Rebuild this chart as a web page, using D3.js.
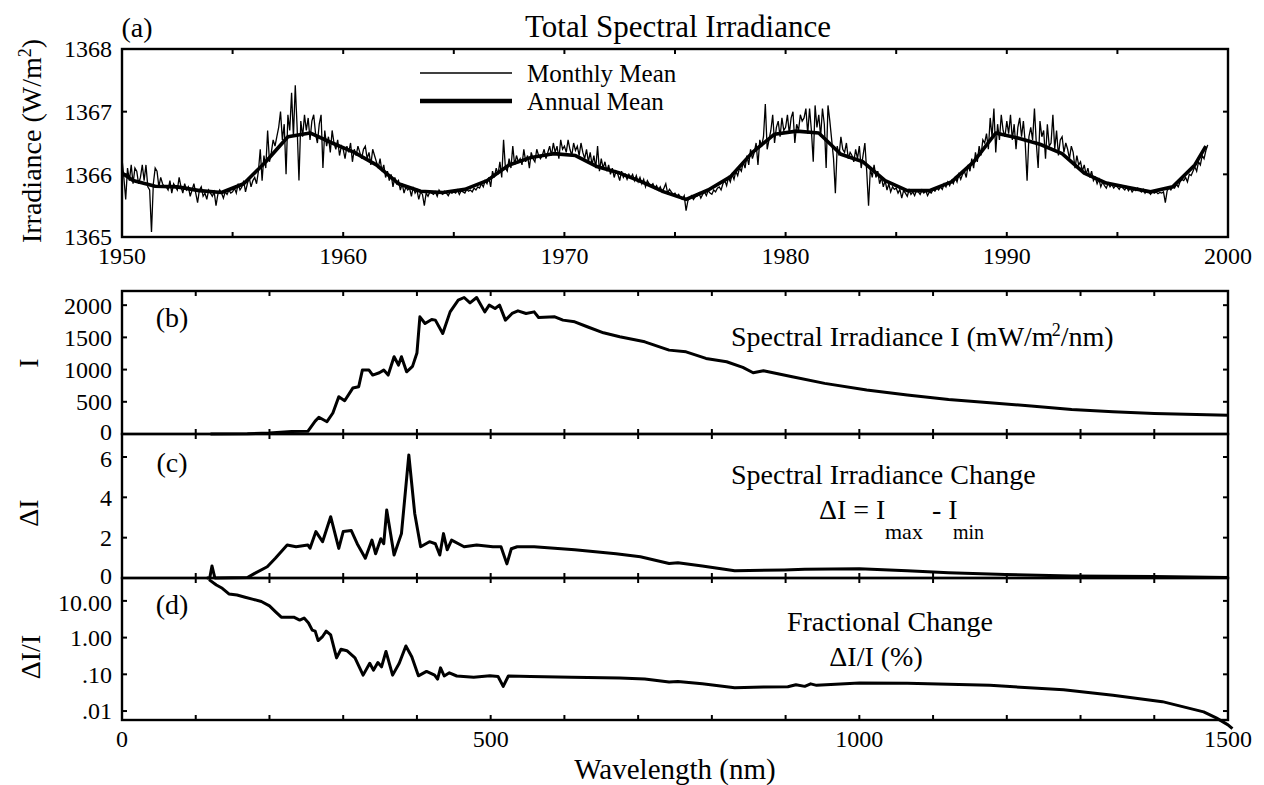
<!DOCTYPE html>
<html>
<head>
<meta charset="utf-8">
<script src="https://cdn.jsdelivr.net/npm/d3@7"></script>
<style>
  html, body { margin: 0; padding: 0; background: #fff; }
  svg text { font-family: 'Liberation Serif', 'DejaVu Serif', serif; fill: #000; }
</style>
</head>
<body>
<div id="chart"></div>
<script>
// ---- data ----

// (a) monthly mean TSI, W/m^2 minus 1365, Jan 1950 .. Feb 1999 (one row per year)
const monthlyBase = 1365;
const monthlyDelta = [
  1.25, 0.95, 0.60, 1.10, 0.90, 1.15, 0.85, 1.10, 1.05, 0.85, 0.95, 1.15, // 1950
  0.90, 1.15, 0.80, 0.75, 0.08, 0.85, 1.10, 1.05, 0.80, 0.95, 0.85, 0.80, // 1951
  0.80, 0.75, 0.90, 0.70, 0.85, 0.80, 0.75, 0.95, 0.80, 0.70, 0.85, 0.75, // 1952
  0.80, 0.65, 0.75, 0.85, 0.70, 0.55, 0.75, 0.80, 0.65, 0.70, 0.60, 0.75, // 1953
  0.70, 0.65, 0.72, 0.50, 0.68, 0.75, 0.70, 0.62, 0.72, 0.68, 0.75, 0.70, // 1954
  0.72, 0.78, 0.70, 0.85, 0.75, 0.80, 0.90, 0.72, 0.85, 0.95, 0.80, 0.90, // 1955
  0.95, 0.85, 1.05, 1.40, 0.90, 1.30, 1.10, 1.70, 1.20, 1.35, 1.55, 1.45, // 1956
  1.60, 1.75, 2.00, 1.55, 1.80, 1.00, 1.95, 1.70, 2.30, 1.60, 2.42, 1.75, // 1957
  0.90, 1.85, 1.60, 1.95, 1.70, 1.90, 1.55, 1.85, 1.95, 1.65, 1.50, 1.80, // 1958
  1.95, 1.10, 1.70, 1.45, 1.60, 1.35, 1.70, 1.50, 1.40, 1.55, 1.30, 1.45, // 1959
  1.40, 1.25, 1.45, 1.35, 1.50, 1.20, 1.40, 1.30, 1.45, 1.35, 1.25, 1.40, // 1960
  1.45, 1.25, 1.35, 1.15, 1.40, 1.30, 1.20, 1.10, 1.25, 1.05, 1.15, 0.95, // 1961
  1.05, 0.90, 1.00, 0.80, 0.95, 0.85, 0.90, 0.75, 0.85, 0.70, 0.80, 0.75, // 1962
  0.78, 0.65, 0.80, 0.70, 0.75, 0.60, 0.72, 0.68, 0.50, 0.70, 0.65, 0.72, // 1963
  0.70, 0.68, 0.72, 0.65, 0.75, 0.70, 0.68, 0.73, 0.70, 0.66, 0.72, 0.70, // 1964
  0.72, 0.70, 0.75, 0.68, 0.74, 0.72, 0.70, 0.76, 0.73, 0.75, 0.72, 0.78, // 1965
  0.75, 0.80, 0.78, 0.85, 0.80, 0.90, 0.85, 0.95, 0.80, 1.05, 0.95, 1.10, // 1966
  1.00, 1.20, 0.95, 1.55, 1.10, 1.05, 1.25, 1.10, 1.45, 1.15, 1.30, 1.20, // 1967
  1.25, 1.15, 1.40, 1.20, 1.30, 1.10, 1.35, 1.25, 1.20, 1.40, 1.30, 1.25, // 1968
  1.30, 1.40, 1.25, 1.35, 1.45, 1.30, 1.50, 1.35, 1.45, 1.25, 1.55, 1.40, // 1969
  1.45, 1.35, 1.55, 1.40, 1.30, 1.50, 1.38, 1.45, 1.30, 1.50, 1.35, 1.25, // 1970
  1.40, 1.20, 1.35, 1.15, 1.30, 1.10, 1.45, 1.05, 1.25, 1.10, 1.20, 1.05, // 1971
  1.15, 1.00, 1.10, 0.95, 1.05, 1.00, 0.90, 1.05, 0.95, 1.00, 0.92, 1.00, // 1972
  0.95, 1.00, 0.90, 0.98, 0.88, 0.95, 0.85, 0.92, 0.80, 0.90, 0.85, 0.82, // 1973
  0.85, 0.78, 0.82, 0.75, 0.80, 0.72, 0.78, 0.85, 0.70, 0.76, 0.72, 0.68, // 1974
  0.70, 0.65, 0.68, 0.62, 0.60, 0.66, 0.42, 0.58, 0.62, 0.66, 0.60, 0.64, // 1975
  0.65, 0.70, 0.62, 0.68, 0.72, 0.66, 0.74, 0.70, 0.68, 0.75, 0.72, 0.78, // 1976
  0.80, 0.75, 0.85, 0.90, 0.82, 0.95, 0.88, 1.00, 0.92, 1.05, 0.98, 1.10, // 1977
  1.05, 1.20, 1.10, 1.30, 1.15, 1.40, 1.25, 1.35, 1.50, 1.15, 1.55, 1.45, // 1978
  1.60, 2.12, 1.40, 1.55, 1.70, 1.95, 1.50, 1.75, 1.85, 1.60, 1.90, 1.70, // 1979
  1.75, 1.95, 1.65, 1.90, 2.00, 1.50, 1.80, 1.70, 1.95, 1.85, 1.90, 2.05, // 1980
  1.65, 2.05, 1.70, 1.20, 2.10, 1.75, 1.95, 1.60, 2.05, 1.80, 1.10, 2.10, // 1981
  1.85, 1.55, 1.25, 0.70, 1.45, 1.30, 1.60, 1.40, 1.35, 1.50, 1.25, 1.35, // 1982
  1.30, 1.20, 1.40, 1.25, 1.45, 1.10, 1.30, 1.50, 1.05, 0.50, 1.10, 0.95, // 1983
  1.15, 0.95, 1.05, 0.85, 0.95, 0.80, 0.90, 0.75, 0.85, 0.72, 0.80, 0.76, // 1984
  0.78, 0.70, 0.76, 0.62, 0.74, 0.70, 0.65, 0.75, 0.68, 0.72, 0.66, 0.74, // 1985
  0.72, 0.68, 0.75, 0.70, 0.74, 0.66, 0.72, 0.70, 0.76, 0.73, 0.78, 0.75, // 1986
  0.80, 0.76, 0.85, 0.80, 0.88, 0.82, 0.90, 0.85, 0.95, 0.88, 1.00, 0.92, // 1987
  1.00, 1.05, 0.95, 1.15, 1.05, 1.25, 1.10, 1.35, 1.20, 1.45, 1.30, 1.55, // 1988
  1.50, 1.65, 1.40, 1.90, 1.60, 2.05, 1.35, 1.80, 1.55, 1.95, 1.70, 1.60, // 1989
  1.85, 1.65, 1.95, 1.55, 1.80, 1.40, 1.75, 1.90, 1.60, 1.85, 1.50, 0.90, // 1990
  1.60, 1.75, 1.55, 2.05, 1.50, 1.10, 1.85, 1.60, 1.70, 1.25, 1.80, 1.45, // 1991
  1.50, 1.95, 1.40, 1.70, 1.30, 1.55, 1.60, 1.35, 1.50, 1.40, 1.25, 1.45, // 1992
  1.35, 1.10, 1.30, 1.15, 1.20, 1.05, 1.15, 1.00, 1.10, 0.95, 1.05, 0.90, // 1993
  0.95, 0.85, 0.92, 0.80, 0.88, 0.82, 0.78, 0.86, 0.80, 0.84, 0.78, 0.82, // 1994
  0.80, 0.76, 0.82, 0.78, 0.75, 0.80, 0.74, 0.78, 0.72, 0.76, 0.74, 0.78, // 1995
  0.75, 0.72, 0.76, 0.70, 0.74, 0.72, 0.68, 0.73, 0.70, 0.72, 0.69, 0.71, // 1996
  0.70, 0.72, 0.55, 0.74, 0.78, 0.75, 0.80, 0.78, 0.84, 0.80, 0.88, 0.92, // 1997
  0.90, 0.95, 0.88, 1.00, 0.98, 1.05, 1.12, 1.05, 1.20, 1.15, 1.30, 1.25, // 1998
  1.38, 1.47                                                              // 1999
];

// (a) annual mean, plotted at mid-year
const annualYears = [1950.0, 1950.5, 1951.5, 1952.5, 1953.5, 1954.5, 1955.5, 1956.5, 1957.5, 1958.5, 1959.5,
  1960.5, 1961.5, 1962.5, 1963.5, 1964.5, 1965.5, 1966.5, 1967.5, 1968.5, 1969.5,
  1970.5, 1971.5, 1972.5, 1973.5, 1974.5, 1975.5, 1976.5, 1977.5, 1978.5, 1979.5,
  1980.5, 1981.5, 1982.5, 1983.5, 1984.5, 1985.5, 1986.5, 1987.5, 1988.5, 1989.5,
  1990.5, 1991.5, 1992.5, 1993.5, 1994.5, 1995.5, 1996.5, 1997.5, 1998.5, 1999.0];
const annualMean = [1366.02, 1365.90, 1365.81, 1365.80, 1365.74, 1365.71, 1365.85, 1366.20, 1366.60, 1366.66, 1366.50,
  1366.35, 1366.15, 1365.85, 1365.73, 1365.71, 1365.76, 1365.90, 1366.15, 1366.27, 1366.33,
  1366.30, 1366.12, 1366.02, 1365.88, 1365.72, 1365.60, 1365.75, 1365.96, 1366.35, 1366.64,
  1366.69, 1366.66, 1366.32, 1366.20, 1365.90, 1365.74, 1365.74, 1365.88, 1366.20, 1366.66,
  1366.58, 1366.48, 1366.33, 1366.02, 1365.86, 1365.79, 1365.72, 1365.80, 1366.15, 1366.45];

// (b) spectral irradiance I (mW/m^2/nm)
const wlI = [120, 170, 200, 230, 252, 262, 267, 278, 286, 294, 302, 313, 321, 326, 335, 340, 349, 355, 361,
  369, 375, 379, 386, 394, 400, 404, 411, 420, 425, 435, 445, 456, 464, 472, 481, 492, 498, 506, 512,
  520, 529, 537, 548, 559, 565, 587, 598, 614, 631, 653, 675, 709, 742, 765, 792, 820, 842, 856, 870,
  909, 953, 1010, 1065, 1121, 1177, 1233, 1288, 1344, 1400, 1500];
const valI = [0, 2, 15, 40, 42, 200, 260, 191, 326, 579, 516, 713, 734, 992, 992, 915, 951, 992, 915,
  1199, 1070, 1199, 966, 1050, 1256, 1819, 1716, 1778, 1768, 1561, 1896, 2077, 2119, 2036, 2119, 1896, 2000, 1948, 2000,
  1768, 1871, 1912, 1871, 1896, 1809, 1819, 1768, 1742, 1665, 1571, 1509, 1431, 1302, 1276, 1173, 1121, 1034, 951, 982,
  889, 786, 682, 605, 537, 486, 434, 382, 346, 320, 290];

// (c) spectral irradiance change dI = Imax - Imin
const wlDI = [115, 119, 122, 126, 170, 180, 197, 208, 224, 236, 252, 255, 263, 272, 283, 294, 300, 311, 319,
  330, 339, 344, 351, 355, 359, 369, 379, 389, 397, 405, 417, 425, 431, 436, 441, 447, 464, 481, 503,
  514, 522, 528, 536, 559, 614, 670, 703, 742, 754, 787, 831, 898, 926, 1000, 1065, 1121, 1198, 1288, 1400, 1500];
const valDI = [0, 0, 0.6, 0, 0.02, 0.23, 0.56, 0.98, 1.64, 1.55, 1.64, 1.48, 2.3, 1.8, 3.04, 1.47, 2.3, 2.35, 1.7,
  0.98, 1.88, 1.2, 1.95, 1.7, 3.37, 1.14, 2.2, 6.1, 3.2, 1.55, 1.8, 1.7, 1.14, 2.2, 1.4, 1.88, 1.55, 1.64, 1.55,
  1.55, 0.7, 1.45, 1.55, 1.55, 1.4, 1.2, 1.05, 0.72, 0.76, 0.6, 0.36, 0.4, 0.43, 0.46, 0.36, 0.26, 0.17, 0.1, 0.07, 0.03];

// (d) fractional change dI/I (%)
const wlFrac = [118, 128, 136, 145, 156, 167, 178, 189, 200, 208, 216, 233, 241, 247, 253, 258, 262, 266, 272, 277,
  283, 291, 297, 305, 316, 327, 336, 341, 347, 352, 358, 367, 376, 385, 393, 402, 413, 424, 428, 432, 437,
  444, 454, 477, 499, 510, 517, 524, 554, 610, 675, 709, 742, 754, 787, 831, 870, 903, 914, 926, 934, 942,
  1000, 1065, 1177, 1277, 1344, 1411, 1467, 1484, 1500, 1506];
const valFrac = [38, 27, 22, 15.5, 14.5, 12.6, 11, 9.6, 7.3, 5.1, 3.6, 3.6, 3.0, 3.4, 2.5, 1.6, 1.5, 0.83, 1.07, 1.5,
  1.18, 0.28, 0.48, 0.44, 0.28, 0.095, 0.2, 0.13, 0.21, 0.16, 0.42, 0.095, 0.2, 0.59, 0.3, 0.091, 0.12, 0.095, 0.074, 0.15, 0.09,
  0.11, 0.09, 0.083, 0.091, 0.087, 0.047, 0.09, 0.087, 0.083, 0.08, 0.075, 0.062, 0.064, 0.055, 0.043, 0.045, 0.046, 0.052, 0.047, 0.055, 0.05,
  0.058, 0.057, 0.05, 0.038, 0.027, 0.018, 0.0095, 0.0065, 0.0042, 0.0033];

// tick labels
const yearTicks = [1950, 1960, 1970, 1980, 1990, 2000];
const tsiTicks = [1365, 1366, 1367, 1368];
const iTicks = [0, 500, 1000, 1500, 2000];
const diTicks = [0, 2, 4, 6];
const fracTicks = [10, 1, 0.1, 0.01];
const fracTickLabels = ['10.00', '1.00', '.10', '.01'];
const wlTicks = [0, 500, 1000, 1500];

// ---- layout ----
const width = 1264, height = 785;
const left = 122, right = 1228;
const panelA = {top: 49, bottom: 237};
const panelB = {top: 291, bottom: 434};
const panelC = {top: 434, bottom: 578};
const panelD = {top: 578, bottom: 720};
const tickLen = 5;

const svg = d3.select('#chart').append('svg')
  .attr('width', width)
  .attr('height', height);

const xYear = d3.scaleLinear().domain([1950, 2000]).range([left, right]);
const xWl = d3.scaleLinear().domain([0, 1500]).range([left, right]);
const yA = d3.scaleLinear().domain([1365, 1368]).range([panelA.bottom, panelA.top]);
const yB = d3.scaleLinear().domain([0, 2220]).range([panelB.bottom, panelB.top]);
const yC = d3.scaleLinear().domain([0, 7.14]).range([panelC.bottom, panelC.top]);
const yD = d3.scaleLog().domain([0.0057, 42]).range([panelD.bottom, panelD.top]);

// frame with inward ticks on all four sides
function frame(x, y, xMinor, yMinor) {
  const [x0, x1] = x.range();
  const [y0, y1] = y.range(); // y0 bottom, y1 top
  const g = svg.append('g');
  g.append('rect')
    .attr('x', x0).attr('y', y1)
    .attr('width', x1 - x0).attr('height', y0 - y1)
    .attr('fill', 'none').attr('stroke', '#000').attr('stroke-width', 2.4);
  xMinor.forEach(v => {
    const px = x(v);
    g.append('line').attr('x1', px).attr('x2', px).attr('y1', y0).attr('y2', y0 - tickLen)
      .attr('stroke', '#000').attr('stroke-width', 2);
    g.append('line').attr('x1', px).attr('x2', px).attr('y1', y1).attr('y2', y1 + tickLen)
      .attr('stroke', '#000').attr('stroke-width', 2);
  });
  yMinor.forEach(v => {
    const py = y(v);
    g.append('line').attr('x1', x0).attr('x2', x0 + tickLen).attr('y1', py).attr('y2', py)
      .attr('stroke', '#000').attr('stroke-width', 2);
    g.append('line').attr('x1', x1).attr('x2', x1 - tickLen).attr('y1', py).attr('y2', py)
      .attr('stroke', '#000').attr('stroke-width', 2);
  });
}

// tick labels on the left; the end labels of stacked panels are nudged apart a little
function yLabels(y, ticks, labels, nudgeBottom = 0, nudgeTop = 0) {
  const [lo, hi] = d3.extent(ticks);
  svg.append('g').selectAll('text')
    .data(ticks)
    .join('text')
    .attr('x', left - 10)
    .attr('y', d => y(d) + (d === lo ? nudgeBottom : 0) + (d === hi ? nudgeTop : 0))
    .attr('dy', '0.35em')
    .attr('text-anchor', 'end')
    .attr('font-size', 24)
    .text((d, i) => labels ? labels[i] : d);
}

function sideLabel(x, y, text) {
  return svg.append('text')
    .attr('transform', `translate(${x},${y}) rotate(-90)`)
    .attr('text-anchor', 'middle')
    .attr('dy', '0.35em')
    .attr('font-size', 28)
    .text(text);
}

function drawLine(xs, ys, x, y, w) {
  const pts = xs.map((v, i) => [v, ys[i]]);
  svg.append('path')
    .datum(pts)
    .attr('d', d3.line().x(d => x(d[0])).y(d => y(d[1])))
    .attr('fill', 'none')
    .attr('stroke', '#000')
    .attr('stroke-width', w)
    .attr('stroke-linejoin', 'round');
}

// ---- panel (a) ----
const monthlyPts = monthlyDelta.map((d, i) => [1950 + i / 12, monthlyBase + d]);
svg.append('path')
  .datum(monthlyPts)
  .attr('d', d3.line().x(d => xYear(d[0])).y(d => yA(d[1])))
  .attr('fill', 'none')
  .attr('stroke', '#000')
  .attr('stroke-width', 1.3);
drawLine(annualYears, annualMean, xYear, yA, 3.6);

frame(xYear, yA, d3.range(1955, 2000, 5), [1366, 1367]);
yLabels(yA, tsiTicks);
svg.append('g').selectAll('text')
  .data(yearTicks)
  .join('text')
  .attr('x', d => xYear(d))
  .attr('y', 264)
  .attr('text-anchor', 'middle')
  .attr('font-size', 24)
  .text(d => d);

const irrLabel = sideLabel(31, 141, 'Irradiance (W/m');
irrLabel.append('tspan').attr('baseline-shift', 'super').attr('font-size', 18).text('2');
irrLabel.append('tspan').text(')');

svg.append('text').attr('x', 137).attr('y', 37).attr('text-anchor', 'middle')
  .attr('font-size', 28).text('(a)');
svg.append('text').attr('x', 678).attr('y', 37).attr('text-anchor', 'middle')
  .attr('font-size', 31).text('Total Spectral Irradiance');

// legend
const legend = [{label: 'Monthly Mean', w: 1.3, y: 73}, {label: 'Annual Mean', w: 4.5, y: 101}];
legend.forEach(l => {
  svg.append('line').attr('x1', 420).attr('x2', 512).attr('y1', l.y).attr('y2', l.y)
    .attr('stroke', '#000').attr('stroke-width', l.w);
  svg.append('text').attr('x', 527).attr('y', l.y).attr('dy', '0.35em')
    .attr('font-size', 25).text(l.label);
});

// ---- panels (b), (c), (d) ----
const wlMinor = d3.range(100, 1500, 100);

drawLine(wlI, valI, xWl, yB, 3);
frame(xWl, yB, wlMinor, [500, 1000, 1500, 2000]);
yLabels(yB, iTicks, null, -2, 0);
sideLabel(28, 363, 'I');

drawLine(wlDI, valDI, xWl, yC, 3);
frame(xWl, yC, wlMinor, [2, 4, 6]);
yLabels(yC, diTicks, null, -2, 2);
sideLabel(28, 513, 'ΔI');

drawLine(wlFrac, valFrac, xWl, yD, 3);
frame(xWl, yD, wlMinor, [0.01, 0.1, 1, 10]);
yLabels(yD, fracTicks, fracTickLabels, 0, 2);
sideLabel(30, 657, 'ΔI/I');

svg.append('g').selectAll('text')
  .data(wlTicks)
  .join('text')
  .attr('x', d => xWl(d))
  .attr('y', 747)
  .attr('text-anchor', 'middle')
  .attr('font-size', 24)
  .text(d => d);
svg.append('text').attr('x', 675).attr('y', 779).attr('text-anchor', 'middle')
  .attr('font-size', 29).text('Wavelength (nm)');

// panel letters
[['(b)', 327], ['(c)', 472], ['(d)', 614]].forEach(([t, y]) => {
  svg.append('text').attr('x', 172).attr('y', y).attr('text-anchor', 'middle')
    .attr('font-size', 28).text(t);
});

// annotations
const noteB = svg.append('text').attr('x', 731).attr('y', 346)
  .attr('font-size', 28).text('Spectral Irradiance I (mW/m');
noteB.append('tspan').attr('baseline-shift', 'super').attr('font-size', 18).attr('dx', -2).text('2');
noteB.append('tspan').text('/nm)');

svg.append('text').attr('x', 731).attr('y', 484)
  .attr('font-size', 28).text('Spectral Irradiance Change');
svg.append('text').attr('x', 819).attr('y', 519)
  .attr('font-size', 28).text('ΔI = I');
svg.append('text').attr('x', 885).attr('y', 539)
  .attr('font-size', 22).text('max');
svg.append('text').attr('x', 932).attr('y', 519)
  .attr('font-size', 28).text('- I');
svg.append('text').attr('x', 953).attr('y', 539)
  .attr('font-size', 20).text('min');

svg.append('text').attr('x', 890).attr('y', 631).attr('text-anchor', 'middle')
  .attr('font-size', 28).text('Fractional Change');
svg.append('text').attr('x', 876).attr('y', 666).attr('text-anchor', 'middle')
  .attr('font-size', 28).text('ΔI/I (%)');
</script>
</body>
</html>
